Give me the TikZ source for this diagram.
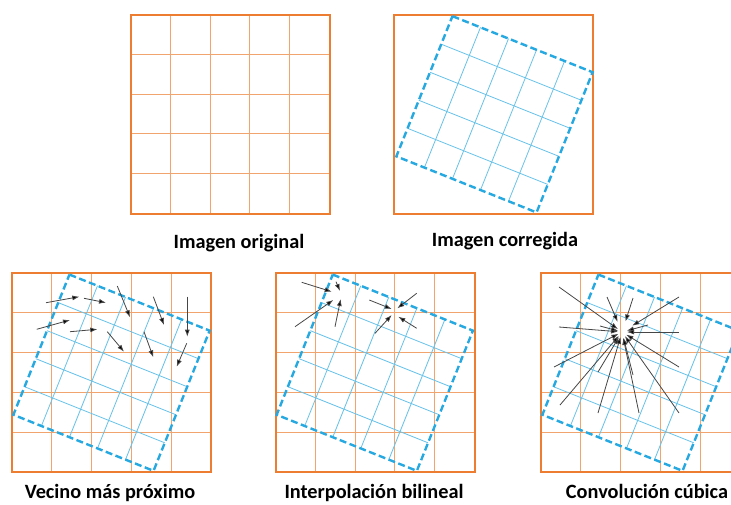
\documentclass[tikz,border=0pt]{standalone}
\usepackage{fontspec}
\setmainfont{Carlito}
\usetikzlibrary{arrows.meta,calc}
\definecolor{orangec}{RGB}{237,125,49}
\definecolor{bluec}{RGB}{38,168,224}
\definecolor{arrc}{RGB}{70,70,70}
\tikzset{
  ogrid/.style={draw=orangec!70, line width=0.9pt},
  oborder/.style={draw=orangec, line width=2pt},
  bgrid/.style={draw=bluec!70, line width=0.8pt},
  bborder/.style={draw=bluec, line width=2.4pt, dash pattern=on 7pt off 3.5pt},
  arr/.style={draw=arrc, line width=0.8pt, -{Latex[length=7pt,width=5pt,fill=black]}},
  lbl/.style={anchor=base, inner sep=0pt, font=\fontsize{20.3}{24}\selectfont\bfseries}
}
\newcommand\ogridfull[2]{%
  \begin{scope}[shift={(#1,#2)}]
    \foreach \kk in {-59.7,-19.9,19.9,59.7}{%
      \draw[ogrid] (\kk,-99.5) -- (\kk,99.5);
      \draw[ogrid] (-99.5,\kk) -- (99.5,\kk);}
    \draw[oborder] (-99.5,-99.5) -- (99.5,-99.5) -- (99.5,99.5) -- (-99.5,99.5) -- cycle;
  \end{scope}}
\newcommand\oframe[2]{%
  \begin{scope}[shift={(#1,#2)}]
    \draw[oborder] (-99.5,-99.5) -- (99.5,-99.5) -- (99.5,99.5) -- (-99.5,99.5) -- cycle;
  \end{scope}}
\newcommand\bsquare[2]{%
  \begin{scope}[shift={(#1,#2)}, rotate=-21.8]
    \foreach \kk in {-45.3,-15.1,15.1,45.3}{%
      \draw[bgrid] (\kk,-75.5) -- (\kk,75.5);
      \draw[bgrid] (-75.5,\kk) -- (75.5,\kk);}
    \draw[bborder] (-75.5,-75.5) -- (75.5,-75.5) -- (75.5,75.5) -- (-75.5,75.5) -- cycle;
  \end{scope}}
\begin{document}
\begin{tikzpicture}[x=1pt,y=-1pt]
\useasboundingbox (0,0) rectangle (731,504);
\clip (0,0) rectangle (731,504);
\fill[white] (0,0) rectangle (731,504);

% top row
\ogridfull{230}{114}
\oframe{493.5}{114}
\bsquare{494.5}{114.3}

% bottom row
\ogridfull{111.5}{372.5}
\bsquare{111.5}{372.7}
\ogridfull{375}{372.5}
\bsquare{374.8}{372.7}
\ogridfull{640.5}{372.5}
\bsquare{640.5}{372.7}

% nearest neighbour arrows
\draw[arr] (46,302.7) -- (79.3,296.7);
\draw[arr] (84,298.3) -- (106,302.7);
\draw[arr] (117.3,286) -- (130,317.3);
\draw[arr] (153.3,296.7) -- (164,325);
\draw[arr] (187.3,296.7) -- (187.3,336.7);
\draw[arr] (36.7,329.3) -- (70,320);
\draw[arr] (70,331.7) -- (97.3,329.3);
\draw[arr] (107.3,331.7) -- (124,351.7);
\draw[arr] (144,331.7) -- (153.3,357.3);
\draw[arr] (186.7,343.3) -- (176.7,366.7);

% bilinear arrows
\draw[arr] (301.7,282.3) -- (331.7,291.7);
\draw[arr] (336,281.7) -- (340,291);
\draw[arr] (295,326.7) -- (333.3,300);
\draw[arr] (335,326.7) -- (340.7,299);
\draw[arr] (369.3,300) -- (391.7,309);
\draw[arr] (416.7,293.3) -- (397.3,308.3);
\draw[arr] (375,333.3) -- (391.7,315);
\draw[arr] (416.7,328.3) -- (398.3,316.7);

% cubic convolution arrows
\coordinate (cc) at (622,332);
\foreach \tx/\ty/\dd in {559/287/5, 607/297/11, 633/298/11, 679/297/12,
                     559/327/4, 679/332/5, 554/367/4, 679/367/5,
                     598/372/6, 560/405/5, 598/413/5, 639/413/6,
                     679/413/5, 633/375/6, 600/326/4, 648/325/5}{%
  \coordinate (t) at (\tx,\ty);
  \draw[arr] (t) -- ($(cc)!\dd pt!(t)$);
}

% labels
\node[lbl] (l1) at (239,248) {Imagen original};
\node[lbl] (l2) at (505,246) {Imagen corregida};
\node[lbl] (l3) at (110,498.5) {Vecino más próximo};
\node[lbl] (l4) at (374,498.5) {Interpolación bilineal};
\node[lbl] (l5) at (647,498.5) {Convolución cúbica};
\end{tikzpicture}
\end{document}
